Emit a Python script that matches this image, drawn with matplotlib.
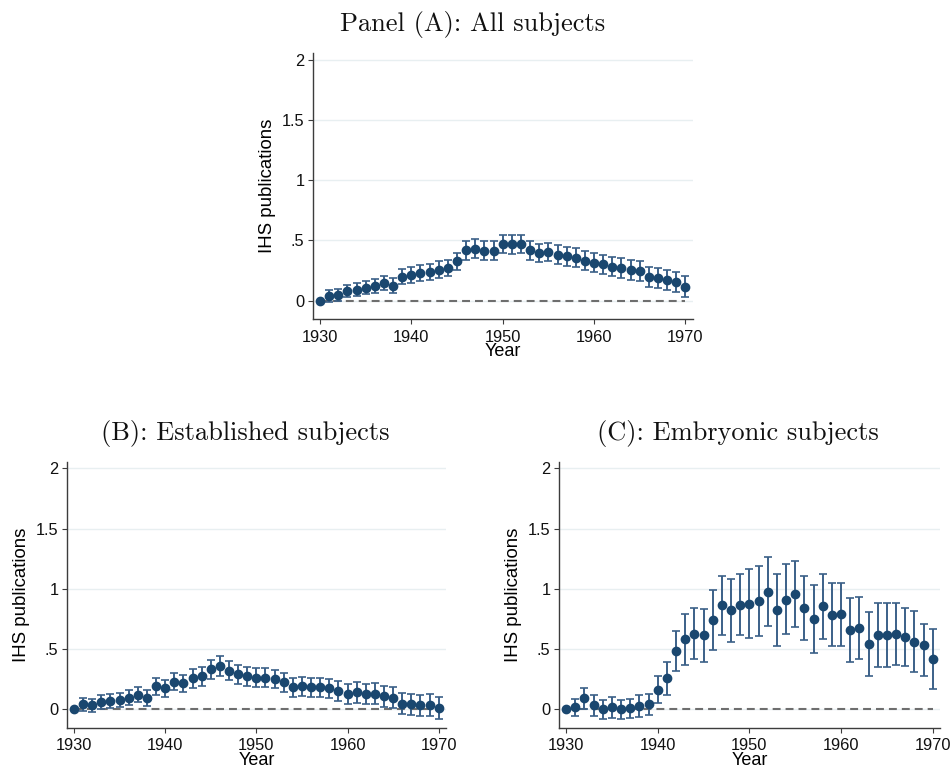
import numpy as np
import matplotlib
matplotlib.use("Agg")
import matplotlib.pyplot as plt

years = list(range(1930, 1971))

# Panel A: all subjects (point estimate and CI half-width)
all_coef = [0.0, 0.036, 0.05, 0.078, 0.092, 0.106, 0.12, 0.144, 0.125, 0.2,
            0.214, 0.228, 0.24, 0.258, 0.27, 0.328, 0.417, 0.43, 0.414, 0.414,
            0.47, 0.467, 0.47, 0.417, 0.397, 0.405, 0.383, 0.367, 0.358, 0.333,
            0.314, 0.303, 0.283, 0.27, 0.255, 0.244, 0.197, 0.186, 0.17, 0.155,
            0.117]
all_err = [0.0, 0.05, 0.05, 0.052, 0.054, 0.055, 0.056, 0.058, 0.06, 0.062,
           0.064, 0.065, 0.066, 0.067, 0.068, 0.07, 0.078, 0.08, 0.078, 0.078,
           0.076, 0.076, 0.076, 0.077, 0.077, 0.077, 0.078, 0.078, 0.078, 0.079,
           0.08, 0.08, 0.08, 0.081, 0.082, 0.082, 0.083, 0.083, 0.084, 0.084,
           0.085]

# Panel B: established subjects
est_coef = [0.0, 0.041, 0.03, 0.061, 0.069, 0.075, 0.094, 0.119, 0.094, 0.188,
            0.174, 0.229, 0.213, 0.254, 0.271, 0.331, 0.356, 0.32, 0.29, 0.271,
            0.26, 0.26, 0.249, 0.221, 0.182, 0.188, 0.182, 0.182, 0.171, 0.152,
            0.124, 0.138, 0.127, 0.127, 0.105, 0.094, 0.044, 0.039, 0.03, 0.036,
            0.011]
est_err = [0.0, 0.055, 0.056, 0.057, 0.058, 0.06, 0.062, 0.064, 0.066, 0.068,
           0.07, 0.072, 0.074, 0.076, 0.078, 0.08, 0.083, 0.08, 0.08, 0.08,
           0.078, 0.078, 0.078, 0.078, 0.079, 0.079, 0.08, 0.08, 0.08, 0.082,
           0.083, 0.084, 0.085, 0.086, 0.086, 0.087, 0.088, 0.088, 0.089, 0.09,
           0.09]

# Panel C: embryonic subjects (point estimate, CI lower, CI upper)
emb_coef = [0.0, 0.014, 0.088, 0.03, 0.0, 0.014, -0.003, 0.006, 0.028, 0.039,
            0.16, 0.254, 0.483, 0.58, 0.627, 0.613, 0.738, 0.865, 0.82, 0.867,
            0.876, 0.9, 0.975, 0.823, 0.909, 0.956, 0.843, 0.749, 0.854, 0.785,
            0.79, 0.657, 0.674, 0.539, 0.613, 0.613, 0.622, 0.6, 0.561, 0.53,
            0.414]
emb_lo = [0.0, -0.061, 0.0, -0.058, -0.08, -0.077, -0.08, -0.072, -0.064, -0.047,
          0.047, 0.113, 0.32, 0.37, 0.412, 0.395, 0.494, 0.616, 0.561, 0.613,
          0.591, 0.61, 0.69, 0.525, 0.627, 0.685, 0.577, 0.47, 0.58, 0.528,
          0.528, 0.395, 0.42, 0.271, 0.348, 0.348, 0.37, 0.356, 0.304, 0.276,
          0.163]
emb_hi = [0.0, 0.086, 0.177, 0.116, 0.077, 0.102, 0.072, 0.083, 0.119, 0.127,
          0.271, 0.392, 0.649, 0.79, 0.843, 0.831, 0.986, 1.108, 1.08, 1.122,
          1.16, 1.19, 1.268, 1.124, 1.204, 1.227, 1.11, 1.028, 1.124, 1.044,
          1.05, 0.92, 0.931, 0.807, 0.881, 0.881, 0.884, 0.84, 0.815, 0.71,
          0.666]

ytick_vals = [0, 0.5, 1, 1.5, 2]
ytick_labels = ["0", ".5", "1", "1.5", "2"]
xtick_vals = [1930, 1940, 1950, 1960, 1970]

navy = "#1a476f"
bar_col = "#3b6088"

plt.rcParams["font.family"] = ["Liberation Sans", "DejaVu Sans"]


def draw_panel(ax, coef, lo, hi):
    x = np.array(years)
    y = np.array(coef)
    yerr = np.vstack([y - np.array(lo), np.array(hi) - y])
    ax.set_axisbelow(True)
    ax.grid(axis="y", color="#e8eff1", lw=1.0)
    ax.plot([years[0], years[-1]], [0, 0], color="#6e6e6e",
            linestyle=(0, (3.8, 2.4)), lw=1.5, zorder=2)
    ax.errorbar(x[1:], y[1:], yerr=yerr[:, 1:], fmt="none", ecolor=bar_col,
                elinewidth=1.4, capsize=2.9, capthick=1.2, zorder=3)
    ax.plot(x, y, "o", color=navy, ms=6.0, zorder=4)
    ax.set_xlim(1929.2, 1970.8)
    ax.set_ylim(-0.155, 2.056)
    ax.set_xticks(xtick_vals)
    ax.set_yticks(ytick_vals)
    ax.set_yticklabels(ytick_labels)
    for s in ["top", "right"]:
        ax.spines[s].set_visible(False)
    for s in ["left", "bottom"]:
        ax.spines[s].set_color("#3c3c3c")
        ax.spines[s].set_linewidth(1.0)
    ax.tick_params(axis="both", length=3.5, width=0.8, color="#3c3c3c",
                   labelsize=11.8, labelcolor="#111111")
    ax.tick_params(axis="y", pad=2.5)
    ax.tick_params(axis="x", pad=4)
    ax.set_xlabel("Year", fontsize=13, labelpad=-1)
    ax.set_ylabel("IHS publications", fontsize=13.4, labelpad=4)


fig = plt.figure(figsize=(9.51, 7.7), dpi=100)
W, H = 951.0, 770.0

axA = fig.add_axes([312.7 / W, 1 - 319.3 / H, 380 / W, 266.3 / H])
axB = fig.add_axes([66.7 / W, 1 - 727.7 / H, 379.3 / W, 266 / H])
axC = fig.add_axes([558.7 / W, 1 - 727.7 / H, 381.3 / W, 266 / H])

all_lo = [c - e for c, e in zip(all_coef, all_err)]
all_hi = [c + e for c, e in zip(all_coef, all_err)]
est_lo = [c - e for c, e in zip(est_coef, est_err)]
est_hi = [c + e for c, e in zip(est_coef, est_err)]

draw_panel(axA, all_coef, all_lo, all_hi)
draw_panel(axB, est_coef, est_lo, est_hi)
draw_panel(axC, emb_coef, emb_lo, emb_hi)

title_kw = dict(family="cmr10", fontsize=19, ha="center", va="baseline", color="#111111")
fig.text(473 / W, 1 - 31 / H, "Panel (A): All subjects", **title_kw)
fig.text(245 / W, 1 - 440 / H, "(B): Established subjects", **title_kw)
fig.text(738 / W, 1 - 440 / H, "(C): Embryonic subjects", **title_kw)

fig.savefig("out.png", dpi=100, facecolor="white")
